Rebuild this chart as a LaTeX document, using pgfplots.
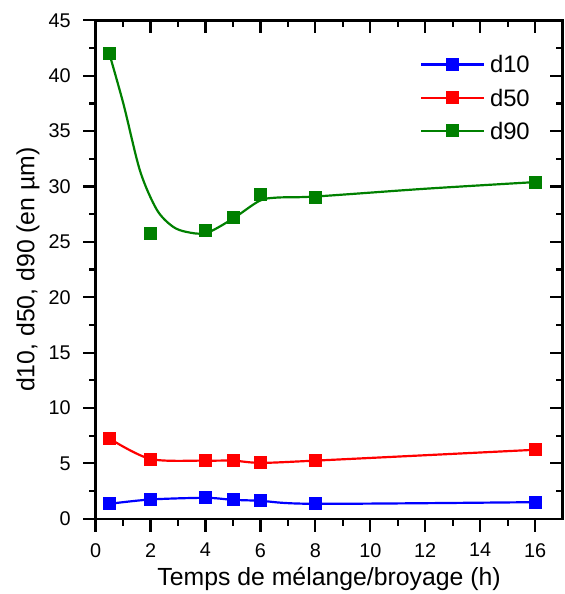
\documentclass[border=0pt]{standalone}
\usepackage{pgfplots}
\pgfplotsset{compat=1.18}
\usepackage{fontspec}
\setmainfont{Liberation Sans}
\definecolor{cblue}{RGB}{0,0,255}
\definecolor{cred}{RGB}{255,0,0}
\definecolor{cgreen}{RGB}{0,128,0}
\begin{document}
\begin{tikzpicture}[tk/.style={black, line width=2.2bp}]
\begin{axis}[
  width=469bp, height=500.5bp, scale only axis,
  xmin=0, xmax=17, ymin=0, ymax=45,
  xtick={0,2,...,16}, ytick={0,5,...,45},
  tick align=inside, major tick length=0pt, minor tick length=0pt,
  tick style={draw=none},
  axis background/.style={draw=black, line width=2.5bp},
  /pgf/number format/assume math mode=true,
  ticklabel style={font=\fontsize{20}{20}\selectfont},
  xticklabel style={yshift=-21bp},
  yticklabel style={xshift=-21.5bp},
  xlabel={Temps de mélange/broyage (h)},
  ylabel={d10, d50, d90 (en µm)},
  every axis x label/.style={at={(axis description cs:0.5,-0.134)}, anchor=base, font=\fontsize{25}{25}\selectfont},
  every axis y label/.style={at={(axis description cs:-0.131,0.5)}, anchor=base, rotate=90, font=\fontsize{25}{25}\selectfont},
  legend style={draw=none, fill=none, inner sep=0pt, at={(axis description cs:0.6945,0.929)}, anchor=north west,
    font=\fontsize{24}{24}\selectfont, row sep=16.3bp, column sep=5bp,
    nodes={inner sep=0pt, text height=17bp, text depth=0pt}},
  legend cell align=left,
  legend image code/.code={\draw[mark repeat=2,mark phase=2,#1] plot coordinates {(0bp,0bp) (31.5bp,0bp) (63bp,0bp)};},
]
\addlegendimage{cblue, line width=2.2bp, mark=square*, mark size=6bp, mark options={line width=0.8bp}}
\addlegendentry{d10}
\addlegendimage{cred, line width=2.2bp, mark=square*, mark size=6bp, mark options={line width=0.8bp}}
\addlegendentry{d50}
\addlegendimage{cgreen, line width=2.2bp, mark=square*, mark size=6bp, mark options={line width=0.8bp}}
\addlegendentry{d90}

% d10
\addplot[cblue, line width=2.2bp, smooth, forget plot] coordinates {
(0.5,1.35) (2,1.74) (4,1.89) (5,1.71) (6,1.62) (8,1.35) (16,1.5)};
\addplot[cblue, only marks, mark=square*, mark size=6bp, mark options={line width=0.8bp}, forget plot] coordinates {
(0.5,1.35) (2,1.74) (4,1.89) (5,1.71) (6,1.62) (8,1.35) (16,1.5)};
% d50
\addplot[cred, line width=2.2bp, smooth, forget plot] coordinates {
(0.5,7.25) (2,5.4) (4,5.25) (5,5.25) (6,5.05) (8,5.25) (16,6.23)};
\addplot[cred, only marks, mark=square*, mark size=6bp, mark options={line width=0.8bp}, forget plot] coordinates {
(0.5,7.25) (2,5.4) (4,5.25) (5,5.25) (6,5.05) (8,5.25) (16,6.23)};
% d90 fitted curve
\addplot[cgreen, line width=2.2bp, smooth, forget plot] coordinates {
(0.5,42) (1.02,37.4) (1.62,31.4) (2.23,27.9) (2.8,26.4) (3.31,25.9) (4.03,25.8) (5.0,27.1) (5.96,28.7) (6.6,29.0) (8,29.1) (12,29.8) (16,30.4)};
\addplot[cgreen, only marks, mark=square*, mark size=6bp, mark options={line width=0.8bp}, forget plot] coordinates {
(0.5,42) (2,25.8) (4,26) (5,27.2) (6,29.3) (8,29.05) (16,30.4)};
\end{axis}
% axis ticks: bottom/left outward, top/right inward
\foreach \x in {0,2,4,6,8,10,12,14,16} {
  \draw[tk] ([xshift={\x/17*469bp}]current axis.south west) -- ++(0,-13bp);
  \draw[tk] ([xshift={\x/17*469bp}]current axis.north west) -- ++(0,-13bp);
}
\foreach \x in {1,3,5,7,9,11,13,15} {
  \draw[tk] ([xshift={\x/17*469bp}]current axis.south west) -- ++(0,-7bp);
  \draw[tk] ([xshift={\x/17*469bp}]current axis.north west) -- ++(0,-7bp);
}
\foreach \y in {0,5,10,15,20,25,30,35,40,45} {
  \draw[tk] ([yshift={\y/45*500.5bp}]current axis.south west) -- ++(-13bp,0);
  \draw[tk] ([yshift={\y/45*500.5bp}]current axis.south east) -- ++(-13bp,0);
}
\foreach \y in {2.5,7.5,12.5,17.5,22.5,27.5,32.5,37.5,42.5} {
  \draw[tk] ([yshift={\y/45*500.5bp}]current axis.south west) -- ++(-7bp,0);
  \draw[tk] ([yshift={\y/45*500.5bp}]current axis.south east) -- ++(-7bp,0);
}
\path ([shift={(-96bp,-73bp)}]current axis.south west) rectangle ([shift={(2bp,20.5bp)}]current axis.north east);
\end{tikzpicture}
\end{document}
